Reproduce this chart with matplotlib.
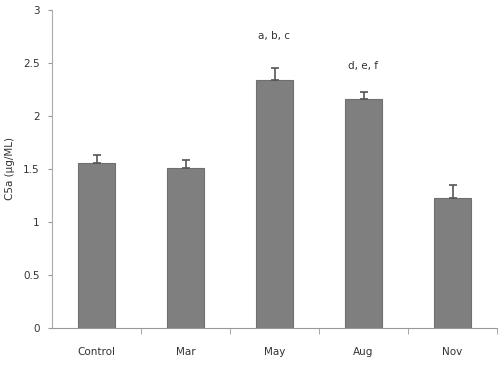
import matplotlib
matplotlib.use('Agg')
import matplotlib.pyplot as plt
import numpy as np

# data
groups = ['Control', 'Mar', 'May', 'Aug', 'Nov']
means = [1.56, 1.51, 2.34, 2.16, 1.23]
errors = [0.07, 0.07, 0.11, 0.07, 0.12]
marks = ['', '', 'a, b, c', 'd, e, f', '']
mark_gap = [0, 0, 0.26, 0.19, 0]
yticks = [0, 0.5, 1, 1.5, 2, 2.5, 3]

fig = plt.figure(figsize=(5, 3.66), dpi=100)
ax = fig.add_axes([0.104, 0.104, 0.89, 0.869])

x = np.arange(len(groups))
ax.bar(x, means, width=0.42, color='#7f7f7f', edgecolor='#6f6f6f', linewidth=0.8, zorder=2)
ax.errorbar(x, means, yerr=[np.zeros(len(errors)), errors], fmt='none',
            ecolor='#555555', elinewidth=1.2, capsize=3, capthick=1.2, zorder=3)

# letters above May and Aug
for xi, m, e, t, g in zip(x, means, errors, marks, mark_gap):
    if t:
        ax.text(xi, m + e + g, t, ha='center', va='bottom', fontsize=7.5, color='#333333')

ax.set_xlim(-0.5, len(groups) - 0.5)
ax.set_ylim(0, 3)
ax.set_yticks(yticks)
ax.set_yticklabels([('%g' % v) for v in yticks], fontsize=7.5, color='#333333')
ax.set_xticks(x)
ax.set_xticklabels(groups, fontsize=7.5, color='#333333')
ax.tick_params(axis='x', length=0, pad=14)
# ticks between the groups
ax.set_xticks(np.arange(len(groups)) + 0.5, minor=True)
ax.tick_params(axis='x', which='minor', length=4, color='#999999', direction='out')
ax.tick_params(axis='y', length=3, color='#999999', direction='out', pad=6)

ax.set_ylabel('C5a (\u00b5g/ML)', fontsize=7.5, color='#333333', labelpad=6)

for s in ['top', 'right']:
    ax.spines[s].set_visible(False)
ax.spines['left'].set_color('#aaaaaa')
ax.spines['bottom'].set_color('#999999')

plt.savefig('out.png', dpi=100)
